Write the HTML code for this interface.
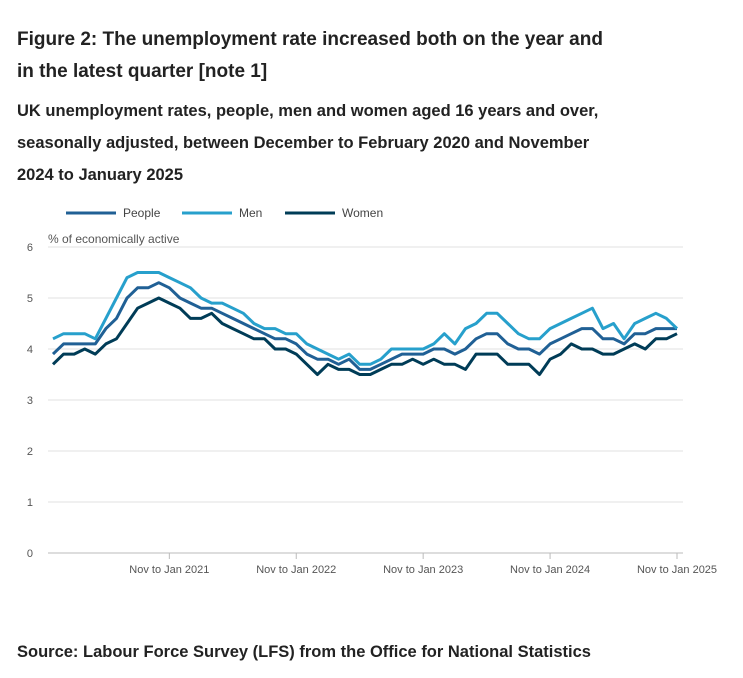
<!DOCTYPE html>
<html><head><meta charset="utf-8">
<style>
body{margin:0;width:743px;height:678px;background:#fff;font-family:"Liberation Sans",sans-serif;color:#222;overflow:hidden;position:relative}
.t{position:absolute;left:17px;font-weight:bold}
</style></head><body>
<div class="t" style="top:24px;font-size:19px;line-height:32px;width:605px">Figure 2: The unemployment rate increased both on the year and in the latest quarter [note 1]</div>
<div class="t" style="top:95px;font-size:16.5px;line-height:32px;width:605px">UK unemployment rates, people, men and women aged 16 years and over, seasonally adjusted, between December to February 2020 and November 2024 to January 2025</div>
<div class="t" style="top:643px;font-size:16.5px">Source: Labour Force Survey (LFS) from the Office for National Statistics</div>
<svg id="c" width="743" height="678" style="position:absolute;left:0;top:0"></svg>
<script>
const categories=["Nov to Jan 2021","Nov to Jan 2022","Nov to Jan 2023","Nov to Jan 2024","Nov to Jan 2025"];
const tickIndex=[11,23,35,47,59];
const yTicks=[0,1,2,3,4,5,6];
const people=[3.9,4.1,4.1,4.1,4.1,4.4,4.6,5.0,5.2,5.2,5.3,5.2,5.0,4.9,4.8,4.8,4.7,4.6,4.5,4.4,4.3,4.2,4.2,4.1,3.9,3.8,3.8,3.7,3.8,3.6,3.6,3.7,3.8,3.9,3.9,3.9,4.0,4.0,3.9,4.0,4.2,4.3,4.3,4.1,4.0,4.0,3.9,4.1,4.2,4.3,4.4,4.4,4.2,4.2,4.1,4.3,4.3,4.4,4.4,4.4];
const men=[4.2,4.3,4.3,4.3,4.2,4.6,5.0,5.4,5.5,5.5,5.5,5.4,5.3,5.2,5.0,4.9,4.9,4.8,4.7,4.5,4.4,4.4,4.3,4.3,4.1,4.0,3.9,3.8,3.9,3.7,3.7,3.8,4.0,4.0,4.0,4.0,4.1,4.3,4.1,4.4,4.5,4.7,4.7,4.5,4.3,4.2,4.2,4.4,4.5,4.6,4.7,4.8,4.4,4.5,4.2,4.5,4.6,4.7,4.6,4.4];
const women=[3.7,3.9,3.9,4.0,3.9,4.1,4.2,4.5,4.8,4.9,5.0,4.9,4.8,4.6,4.6,4.7,4.5,4.4,4.3,4.2,4.2,4.0,4.0,3.9,3.7,3.5,3.7,3.6,3.6,3.5,3.5,3.6,3.7,3.7,3.8,3.7,3.8,3.7,3.7,3.6,3.9,3.9,3.9,3.7,3.7,3.7,3.5,3.8,3.9,4.1,4.0,4.0,3.9,3.9,4.0,4.1,4.0,4.2,4.2,4.3];
const seriesNames=["People","Men","Women"];
const NS="http://www.w3.org/2000/svg",svg=document.getElementById('c');
const x=i=>53+i*(677-53)/59, y=v=>553-v*51;
function mk(t,a,p){const e=document.createElementNS(NS,t);for(const k in a)e.setAttribute(k,a[k]);(p||svg).appendChild(e);return e;}
yTicks.forEach(v=>{
 const l=mk('line',{x1:48,x2:683,y1:y(v),y2:y(v),stroke:v===0?'#bbb':'#e0e0e0','stroke-width':1});
 
 
 const t=mk('text',{x:33,y:y(v)+4,'font-size':11,fill:'#555','text-anchor':'end'});t.textContent=v;
 
 
});
const yt=mk('text',{x:48,y:243,'font-size':12,fill:'#555'});yt.textContent='% of economically active';


categories.forEach((c,k)=>{
 const xi=x(tickIndex[k]);
 const tk=mk('line',{x1:xi,x2:xi,y1:553,y2:559,stroke:'#bbb'});
 
 
 const t=mk('text',{x:xi,y:573,'font-size':11,fill:'#555','text-anchor':'middle'});t.textContent=c;
 
 
});
const data=[people,men,women],cols=['#206095','#27a0cc','#003c57'],lx=[66,182,285];
data.forEach((d,s)=>{
 const p=mk('polyline',{points:d.map((v,i)=>x(i)+','+y(v)).join(' '),fill:'none',stroke:cols[s],'stroke-width':3,'stroke-linejoin':'round'});
 
 
 const g=mk('g',{});
 
 
 mk('line',{x1:lx[s],x2:lx[s]+50,y1:213,y2:213,stroke:cols[s],'stroke-width':3},g);
 const t=mk('text',{x:lx[s]+57,y:217,'font-size':12,fill:'#444'},g);t.textContent=seriesNames[s];
});
</script>
</body></html>
